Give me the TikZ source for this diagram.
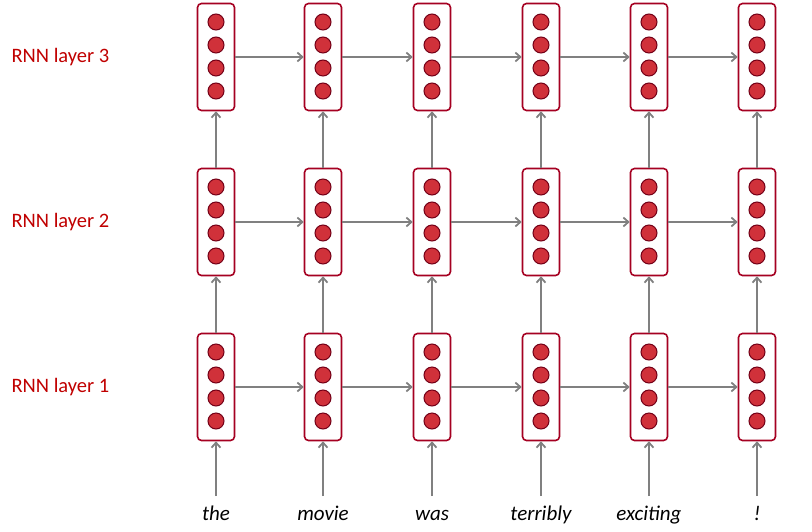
\documentclass[tikz,border=0pt]{standalone}
\usepackage{fontspec}
\setmainfont{Carlito}
\usetikzlibrary{arrows.meta}
\definecolor{dred}{HTML}{A50021}
\definecolor{cred}{HTML}{D0313A}
\definecolor{lab}{HTML}{C00000}
\begin{document}
\begin{tikzpicture}[x=1pt,y=-1pt,
  box/.style={draw=dred,line width=1.6pt,rounded corners=4pt,minimum width=37pt,minimum height=107pt,inner sep=0pt,fill=white},
  dot/.style={circle,draw=dred!70!black,line width=1pt,fill=cred,minimum size=16pt,inner sep=0pt},
  arr/.style={draw=gray,line width=1.8pt,-{Straight Barb[length=5pt,width=9pt]}},
  word/.style={font=\fontsize{21}{24}\selectfont\itshape,anchor=base},
  lbl/.style={text=lab,font=\fontsize{20.5}{24}\selectfont,anchor=west}]
\useasboundingbox (0,0) rectangle (812,531);
\foreach \l/\y in {1/387,2/222,3/57}{
  \node[lbl] (L\l) at (8,\y) {RNN layer \l};
  \foreach \c/\x in {1/216,2/323,3/432,4/541,5/649,6/757}{
    \node[box] (b\l\c) at (\x,\y) {};
    \foreach \k/\o in {1/-35,2/-12,3/11,4/34}{
      \node[dot] (d\l\c\k) at (\x,\y+\o) {};
    }
  }
}
\foreach \l in {1,2,3}{
  \foreach \c [evaluate=\c as \n using int(\c+1)] in {1,...,5}{
    \draw[arr] (b\l\c.east) -- (b\l\n.west);
  }
}
\foreach \c in {1,...,6}{
  \draw[arr] (b1\c.north) -- (b2\c.south);
  \draw[arr] (b2\c.north) -- (b3\c.south);
}
\foreach \c/\x/\w in {1/216/the,2/323/movie,3/432/was,4/541/terribly,5/649/exciting,6/757/!}{
  \node[word] (w\c) at (\x,520) {\w};
  \coordinate (s\c) at (\x,496);
  \draw[arr] (s\c) -- (b1\c.south);
}
\end{tikzpicture}
\end{document}
